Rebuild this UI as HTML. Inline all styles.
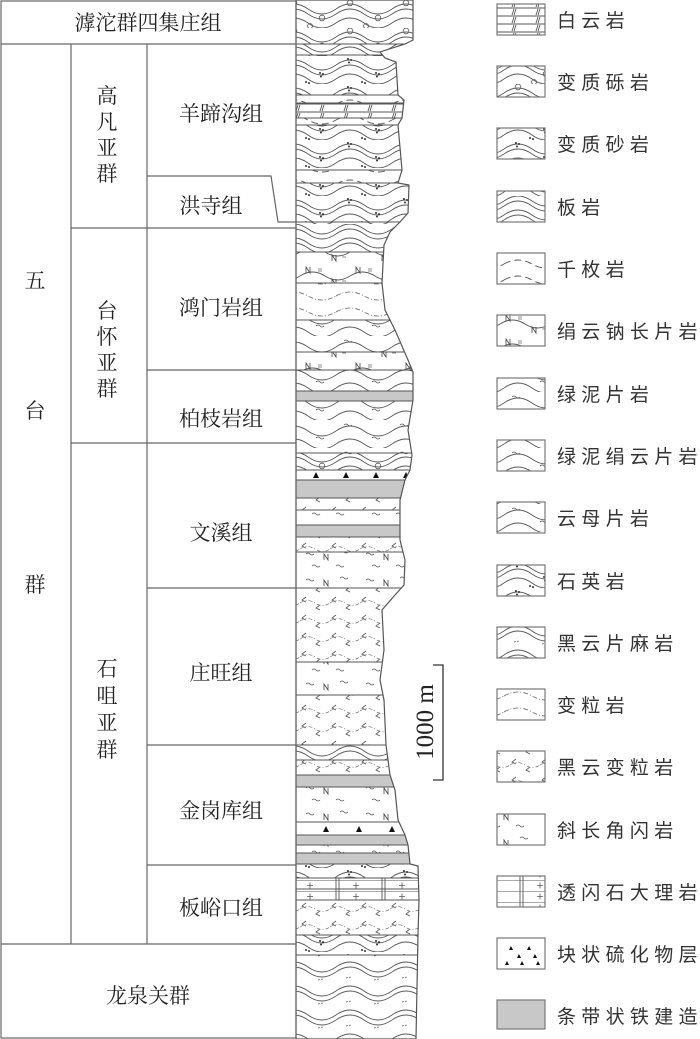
<!DOCTYPE html>
<html><head><meta charset="utf-8"><style>
html,body{margin:0;padding:0;background:#fff;}
svg{display:block}
.t{font-family:"Liberation Serif","Noto Serif CJK SC",serif;font-size:21px;fill:#222;}
.lg{font-family:"Liberation Sans","Noto Sans CJK SC",sans-serif;font-size:19px;fill:#333;letter-spacing:5.3px;}
</style></head><body>
<svg width="700" height="1039" viewBox="0 0 700 1039" xmlns="http://www.w3.org/2000/svg">
<defs>
<pattern id="slate" patternUnits="userSpaceOnUse" width="56" height="28">
<path d="M0,5 Q14,-5 28,5 T56,5 M0,10 Q14,0 28,10 T56,10 M0,19 Q14,9 28,19 T56,19 M0,24 Q14,14 28,24 T56,24" fill="none" stroke="#555" stroke-width="0.9"/></pattern>
<pattern id="cong" patternUnits="userSpaceOnUse" width="56" height="28">
<path d="M0,9 Q14,-1 28,9 T56,9 M0,14 Q14,4 28,14 T56,14 M0,23 Q14,13 28,23 T56,23" fill="none" stroke="#555" stroke-width="0.9"/>
<circle cx="14" cy="3" r="2.8" fill="none" stroke="#555" stroke-width="0.8"/><circle cx="42" cy="18" r="2.8" fill="none" stroke="#555" stroke-width="0.8"/><circle cx="30" cy="26" r="2.5" fill="none" stroke="#555" stroke-width="0.8"/></pattern>
<pattern id="sand" patternUnits="userSpaceOnUse" width="56" height="28">
<path d="M0,9 Q14,-1 28,9 T56,9 M0,14 Q14,4 28,14 T56,14 M0,23 Q14,13 28,23 T56,23" fill="none" stroke="#555" stroke-width="0.9"/>
<g fill="#333"><circle cx="12" cy="3" r="1"/><circle cx="15" cy="4" r="1"/><circle cx="13" cy="6.5" r="1"/><circle cx="40" cy="17" r="1"/><circle cx="43" cy="18" r="1"/><circle cx="41" cy="20.5" r="1"/><circle cx="26" cy="26" r="1"/><circle cx="29" cy="27" r="1"/></g></pattern>
<pattern id="phyl" patternUnits="userSpaceOnUse" width="56" height="16">
<path d="M0,8 Q14,0 28,8 T56,8" fill="none" stroke="#555" stroke-width="0.9" stroke-dasharray="7,4"/></pattern>
<pattern id="dolo" patternUnits="userSpaceOnUse" width="24" height="8">
<path d="M0,0 H24 M0,8 H24 M10,1 L8,7 M12,1 L10,7" fill="none" stroke="#555" stroke-width="0.9"/></pattern>
<pattern id="nsch" patternUnits="userSpaceOnUse" width="50" height="24">
<path d="M0,12 Q12.5,4 25,12 T50,12" fill="none" stroke="#555" stroke-width="0.9"/>
<path d="M6,9 V3 L10,9 V3 M32,21 V15 L36,21 V15" fill="none" stroke="#444" stroke-width="0.8"/>
<path d="M18,5 h4 M18,7 h4 M42,17 h4" stroke="#666" stroke-width="0.7"/></pattern>
<pattern id="chl" patternUnits="userSpaceOnUse" width="56" height="28">
<path d="M0,11 Q14,1 28,11 T56,11 M0,24 Q14,14 28,24 T56,24" fill="none" stroke="#555" stroke-width="0.9"/>
<path d="M8,5 q2,-2 4,0 t4,0 M36,18 q2,-2 4,0 t4,0" fill="none" stroke="#555" stroke-width="0.8"/></pattern>
<pattern id="gran" patternUnits="userSpaceOnUse" width="56" height="16">
<path d="M0,8 Q14,0 28,8 T56,8" fill="none" stroke="#666" stroke-width="0.8" stroke-dasharray="5,2,1,2"/></pattern>
<pattern id="bgran" patternUnits="userSpaceOnUse" width="30" height="18">
<path d="M6,3 l-4,3 l4,2 M20,11 l-4,3 l4,2" fill="none" stroke="#555" stroke-width="0.8"/>
<path d="M0,9 Q7.5,4 15,9 T30,9" fill="none" stroke="#777" stroke-width="0.7" stroke-dasharray="4,2,1,2"/></pattern>
<pattern id="amph" patternUnits="userSpaceOnUse" width="60" height="26">
<path d="M6,8 q2,-2 4,0 t4,0 M36,20 q2,-2 4,0 t4,0 M40,6 q2,-2 4,0 t4,0 M12,20 q2,-2 4,0 t4,0" fill="none" stroke="#555" stroke-width="0.8"/>
<path d="M24,14 V8 L28,14 V8" fill="none" stroke="#444" stroke-width="0.8"/></pattern>
<pattern id="marb" patternUnits="userSpaceOnUse" width="46" height="11">
<path d="M0,0 H46 M14,0 V11 M17,0 V11" fill="none" stroke="#555" stroke-width="0.9"/>
<path d="M31,5.5 h6 M34,2.5 v6" stroke="#555" stroke-width="0.8"/></pattern>
<pattern id="gneiss" patternUnits="userSpaceOnUse" width="56" height="24">
<path d="M0,7 Q14,-3 28,7 T56,7 M0,12 Q14,2 28,12 T56,12" fill="none" stroke="#555" stroke-width="0.9"/>
<path d="M10,18 l5,-1 M38,20 l5,-1" stroke="#666" stroke-width="0.8" stroke-dasharray="2,1"/></pattern>
<clipPath id="col"><path id="outline" d="M296,0 L413,0 L413,40 L405,44 L380,52 L385,58 L396,62 L398,95 L404,100 L402,118 L398,125 L402,170 L398,183 L409,185 L408,213 L400,222 L390,232 L384,245 L382,283 L385,310 L395,330 L408,360 L413,372 L413,400 L408,430 L412,455 L410,470 L405,480 L400,500 L400,540 L405,560 L404,585 L395,595 L382,610 L384,650 L380,680 L384,700 L386,745 L388,760 L390,775 L395,790 L398,820 L405,835 L408,845 L410,864 L418,866 L419,900 L418,935 L416,1039 L296,1039 Z"/></clipPath>
</defs>

<g clip-path="url(#col)">
<rect x="296" y="0" width="130" height="44" fill="url(#cong)"/>
<rect x="296" y="44" width="130" height="11" fill="url(#slate)"/>
<rect x="296" y="55" width="130" height="40" fill="url(#sand)"/>
<rect x="296" y="95" width="130" height="8" fill="url(#phyl)"/>
<rect x="296" y="103" width="130" height="15" fill="url(#dolo)"/>
<rect x="296" y="118" width="130" height="7" fill="url(#phyl)"/>
<rect x="296" y="125" width="130" height="45" fill="url(#sand)"/>
<rect x="296" y="170" width="130" height="13" fill="url(#phyl)"/>
<rect x="296" y="183" width="130" height="39" fill="url(#sand)"/>
<rect x="296" y="222" width="130" height="30" fill="url(#slate)"/>
<rect x="296" y="252" width="130" height="31" fill="url(#nsch)"/>
<rect x="296" y="283" width="130" height="37" fill="url(#gran)"/>
<rect x="296" y="320" width="130" height="32" fill="url(#chl)"/>
<rect x="296" y="352" width="130" height="18" fill="url(#nsch)"/>
<rect x="296" y="370" width="130" height="21" fill="url(#chl)"/>
<rect x="296" y="391" width="130" height="10" fill="#c8c8c8"/>
<rect x="296" y="401" width="130" height="52" fill="url(#chl)"/>
<rect x="296" y="453" width="130" height="17" fill="url(#cong)"/>
<rect x="296" y="480" width="130" height="18" fill="#c8c8c8"/>
<rect x="296" y="498" width="130" height="12" fill="url(#bgran)"/>
<rect x="296" y="510" width="130" height="15" fill="url(#amph)"/>
<rect x="296" y="525" width="130" height="12" fill="#c8c8c8"/>
<rect x="296" y="537" width="130" height="15" fill="url(#bgran)"/>
<rect x="296" y="552" width="130" height="36" fill="url(#amph)"/>
<rect x="296" y="588" width="130" height="74" fill="url(#bgran)"/>
<rect x="296" y="662" width="130" height="33" fill="url(#amph)"/>
<rect x="296" y="695" width="130" height="50" fill="url(#bgran)"/>
<rect x="296" y="745" width="130" height="15" fill="url(#gneiss)"/>
<rect x="296" y="760" width="130" height="15" fill="url(#bgran)"/>
<rect x="296" y="775" width="130" height="12" fill="#c8c8c8"/>
<rect x="296" y="787" width="130" height="35" fill="url(#amph)"/>
<rect x="296" y="835" width="130" height="10" fill="#c8c8c8"/>
<rect x="296" y="845" width="130" height="8" fill="url(#amph)"/>
<rect x="296" y="853" width="130" height="11" fill="#c8c8c8"/>
<rect x="296" y="864" width="130" height="14" fill="url(#sand)"/>
<rect x="296" y="878" width="130" height="22" fill="url(#marb)"/>
<rect x="296" y="900" width="130" height="35" fill="url(#bgran)"/>
<rect x="296" y="935" width="130" height="20" fill="url(#sand)"/>
<rect x="296" y="955" width="130" height="84" fill="url(#gneiss)"/>
<g fill="#111">
<path d="M313,478 l3,-6 l3,6z M343,478 l3,-6 l3,6z M373,478 l3,-6 l3,6z M403,478 l3,-6 l3,6z"/>
<path d="M323,832 l3,-6 l3,6z M356,832 l3,-6 l3,6z M389,832 l3,-6 l3,6z"/>
</g>
<g stroke="#555" stroke-width="1">
<path d="M296,44H430 M296,55H430 M296,95H430 M296,103H430 M296,118H430 M296,125H430 M296,170H430 M296,183H430 M296,222H430 M296,252H430 M296,283H430 M296,320H430 M296,352H430 M296,370H430 M296,391H430 M296,401H430 M296,453H430 M296,470H430 M296,480H430 M296,498H430 M296,510H430 M296,525H430 M296,537H430 M296,552H430 M296,588H430 M296,662H430 M296,695H430 M296,745H430 M296,760H430 M296,775H430 M296,787H430 M296,822H430 M296,835H430 M296,845H430 M296,853H430 M296,864H430 M296,878H430 M296,889H430 M296,900H430 M296,935H430 M296,955H430"/>
</g>
</g>
<use href="#outline" fill="none" stroke="#555" stroke-width="1.2"/>

<g stroke="#666" stroke-width="1.2" fill="none">
<rect x="1" y="1" width="295" height="1037"/>
<path d="M1,44H296 M71,44V944 M147,44V944 M1,944H296 M71,228H296 M71,443H296 M147,176H271 L278,222 H296 M147,370H296 M147,588H296 M147,745H296 M147,865H296"/>
</g>
<g class="t" text-anchor="middle">
<text x="148" y="30">滹沱群四集庄组</text>
<text x="35" y="288">五</text><text x="35" y="418">台</text><text x="35" y="592">群</text>
<text x="107" y="103">高</text><text x="107" y="129">凡</text><text x="107" y="155">亚</text><text x="107" y="181">群</text>
<text x="107" y="318">台</text><text x="107" y="344">怀</text><text x="107" y="370">亚</text><text x="107" y="396">群</text>
<text x="107" y="676">石</text><text x="107" y="703">咀</text><text x="107" y="730">亚</text><text x="107" y="757">群</text>
<text x="221" y="121">羊蹄沟组</text>
<text x="211" y="213">洪寺组</text>
<text x="221" y="315">鸿门岩组</text>
<text x="221" y="426">柏枝岩组</text>
<text x="221" y="540">文溪组</text>
<text x="221" y="680">庄旺组</text>
<text x="221" y="818">金岗库组</text>
<text x="221" y="915">板峪口组</text>
<text x="148" y="1003">龙泉关群</text>
</g>

<path d="M433,665H443V780H433" fill="none" stroke="#333" stroke-width="1.3"/>
<text transform="translate(433,722) rotate(-90)" text-anchor="middle" style="font-family:'Liberation Serif',serif;font-size:25px;fill:#222">1000 m</text>

<g stroke="#777" stroke-width="1.2">
<rect x="497" y="4" width="48" height="31" fill="url(#dolo)"/>
<rect x="497" y="66" width="48" height="31" fill="url(#cong)"/>
<rect x="497" y="128" width="48" height="31" fill="url(#sand)"/>
<rect x="497" y="191" width="48" height="31" fill="url(#slate)"/>
<rect x="497" y="253" width="48" height="31" fill="url(#phyl)"/>
<rect x="497" y="315" width="48" height="31" fill="url(#nsch)"/>
<rect x="497" y="378" width="48" height="31" fill="url(#chl)"/>
<rect x="497" y="440" width="48" height="31" fill="url(#chl)"/>
<rect x="497" y="502" width="48" height="31" fill="url(#chl)"/>
<rect x="497" y="565" width="48" height="31" fill="url(#sand)"/>
<rect x="497" y="627" width="48" height="31" fill="url(#gneiss)"/>
<rect x="497" y="689" width="48" height="31" fill="url(#gran)"/>
<rect x="497" y="751" width="48" height="31" fill="url(#bgran)"/>
<rect x="497" y="814" width="48" height="31" fill="url(#amph)"/>
<rect x="497" y="876" width="48" height="31" fill="url(#marb)"/>
<rect x="497" y="938" width="48" height="31" fill="#fff"/>
<rect x="497" y="1000" width="48" height="29" fill="#c8c8c8"/>
</g>
<path fill="#111" d="M509,950 l2,-4 l2,4z M527,950 l2,-4 l2,4z M517,958 l2,-4 l2,4z M533,958 l2,-4 l2,4z M505,965 l2,-4 l2,4z M520,965 l2,-4 l2,4z M536,965 l2,-4 l2,4z"/>
<g class="lg">
<text x="557" y="27">白云岩</text>
<text x="557" y="89">变质砾岩</text>
<text x="557" y="151">变质砂岩</text>
<text x="557" y="214">板岩</text>
<text x="557" y="276">千枚岩</text>
<text x="557" y="338">绢云钠长片岩</text>
<text x="557" y="401">绿泥片岩</text>
<text x="557" y="463">绿泥绢云片岩</text>
<text x="557" y="525">云母片岩</text>
<text x="557" y="588">石英岩</text>
<text x="557" y="650">黑云片麻岩</text>
<text x="557" y="712">变粒岩</text>
<text x="557" y="774">黑云变粒岩</text>
<text x="557" y="837">斜长角闪岩</text>
<text x="557" y="899">透闪石大理岩</text>
<text x="557" y="961">块状硫化物层</text>
<text x="557" y="1023">条带状铁建造</text>
</g>
</svg>
</body></html>
